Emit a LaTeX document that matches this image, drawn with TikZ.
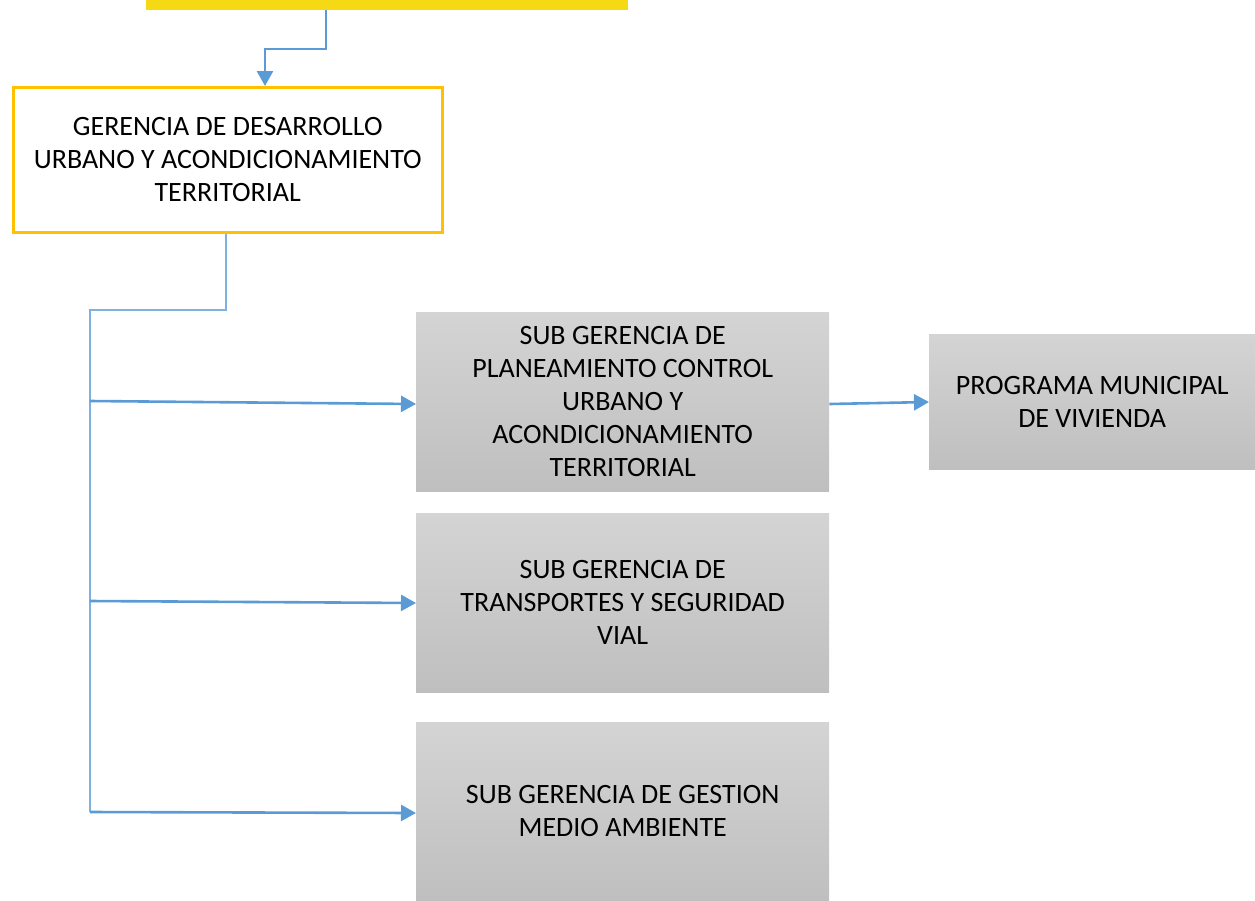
\documentclass[tikz,border=0pt]{standalone}
\usepackage{fontspec}
\setmainfont{Carlito}
\usetikzlibrary{arrows.meta}
\definecolor{lineblue}{HTML}{5B9BD5}
\definecolor{thinblue}{HTML}{7EB1E0}
\definecolor{ygold}{HTML}{F5D914}
\definecolor{orangeb}{HTML}{FFC000}
\definecolor{gtop}{HTML}{D4D4D4}
\definecolor{gbot}{HTML}{BFBFBF}
\tikzset{
  graybox/.style={rectangle, top color=gtop, bottom color=gbot, draw=none, inner sep=0pt,
    align=center, font=\fontsize{28}{33}\selectfont, text=black},
  conn/.style={draw=lineblue, line width=2.6pt, -{Triangle[length=15pt,width=16pt]}},
  thin/.style={draw=thinblue, line width=1.6pt},
}
\begin{document}
\begin{tikzpicture}[x=1pt,y=-1pt]
\useasboundingbox (0,0) rectangle (1255,900);
\begin{scope}
\clip (0,0) rectangle (1255,900);
\node[fill=ygold, minimum width=482pt, minimum height=20pt, inner sep=0pt, anchor=south west] (top) at (146,10) {};
\end{scope}
\node[draw=orangeb, line width=2.5pt, fill=white, minimum width=429pt, minimum height=145pt, inner sep=0pt,
  anchor=north west, align=center, font=\fontsize{28}{33}\selectfont] (ger) at (12,86)
  {GERENCIA DE DESARROLLO\\URBANO Y ACONDICIONAMIENTO\\TERRITORIAL};
\node[graybox, minimum width=413pt, minimum height=179pt, anchor=north west] (s1) at (416,312)
  {SUB GERENCIA DE\\PLANEAMIENTO CONTROL\\URBANO Y\\ACONDICIONAMIENTO\\TERRITORIAL};
\node[graybox, minimum width=413pt, minimum height=179pt, anchor=north west] (s2) at (416,513)
  {SUB GERENCIA DE\\TRANSPORTES Y SEGURIDAD\\VIAL};
\node[graybox, minimum width=413pt, minimum height=178pt, anchor=north west] (s3) at (416,722)
  {SUB GERENCIA DE GESTION\\MEDIO AMBIENTE};
\node[graybox, minimum width=326pt, minimum height=135pt, anchor=north west] (pm) at (929,334)
  {PROGRAMA MUNICIPAL\\DE VIVIENDA};
\coordinate (c1) at (326,49);
\coordinate (c2) at (265,49);
\draw[conn] (326,10) -- (c1) -- (c2) -- (ger.north -| c2);
\coordinate (b1) at (226,310);
\coordinate (b2) at (90,310);
\coordinate (b3) at (90,812);
\draw[thin] (ger.south -| b1) -- (b1) -- (b2) -- (b3);
\draw[conn] (90,401) -- (s1.west |- 0,404);
\draw[conn] (90,601) -- (s2.west |- 0,603);
\draw[conn] (b3) -- (s3.west |- 0,813);
\draw[conn] (s1.east |- 0,404) -- (pm.west |- 0,402);
\end{tikzpicture}
\end{document}
